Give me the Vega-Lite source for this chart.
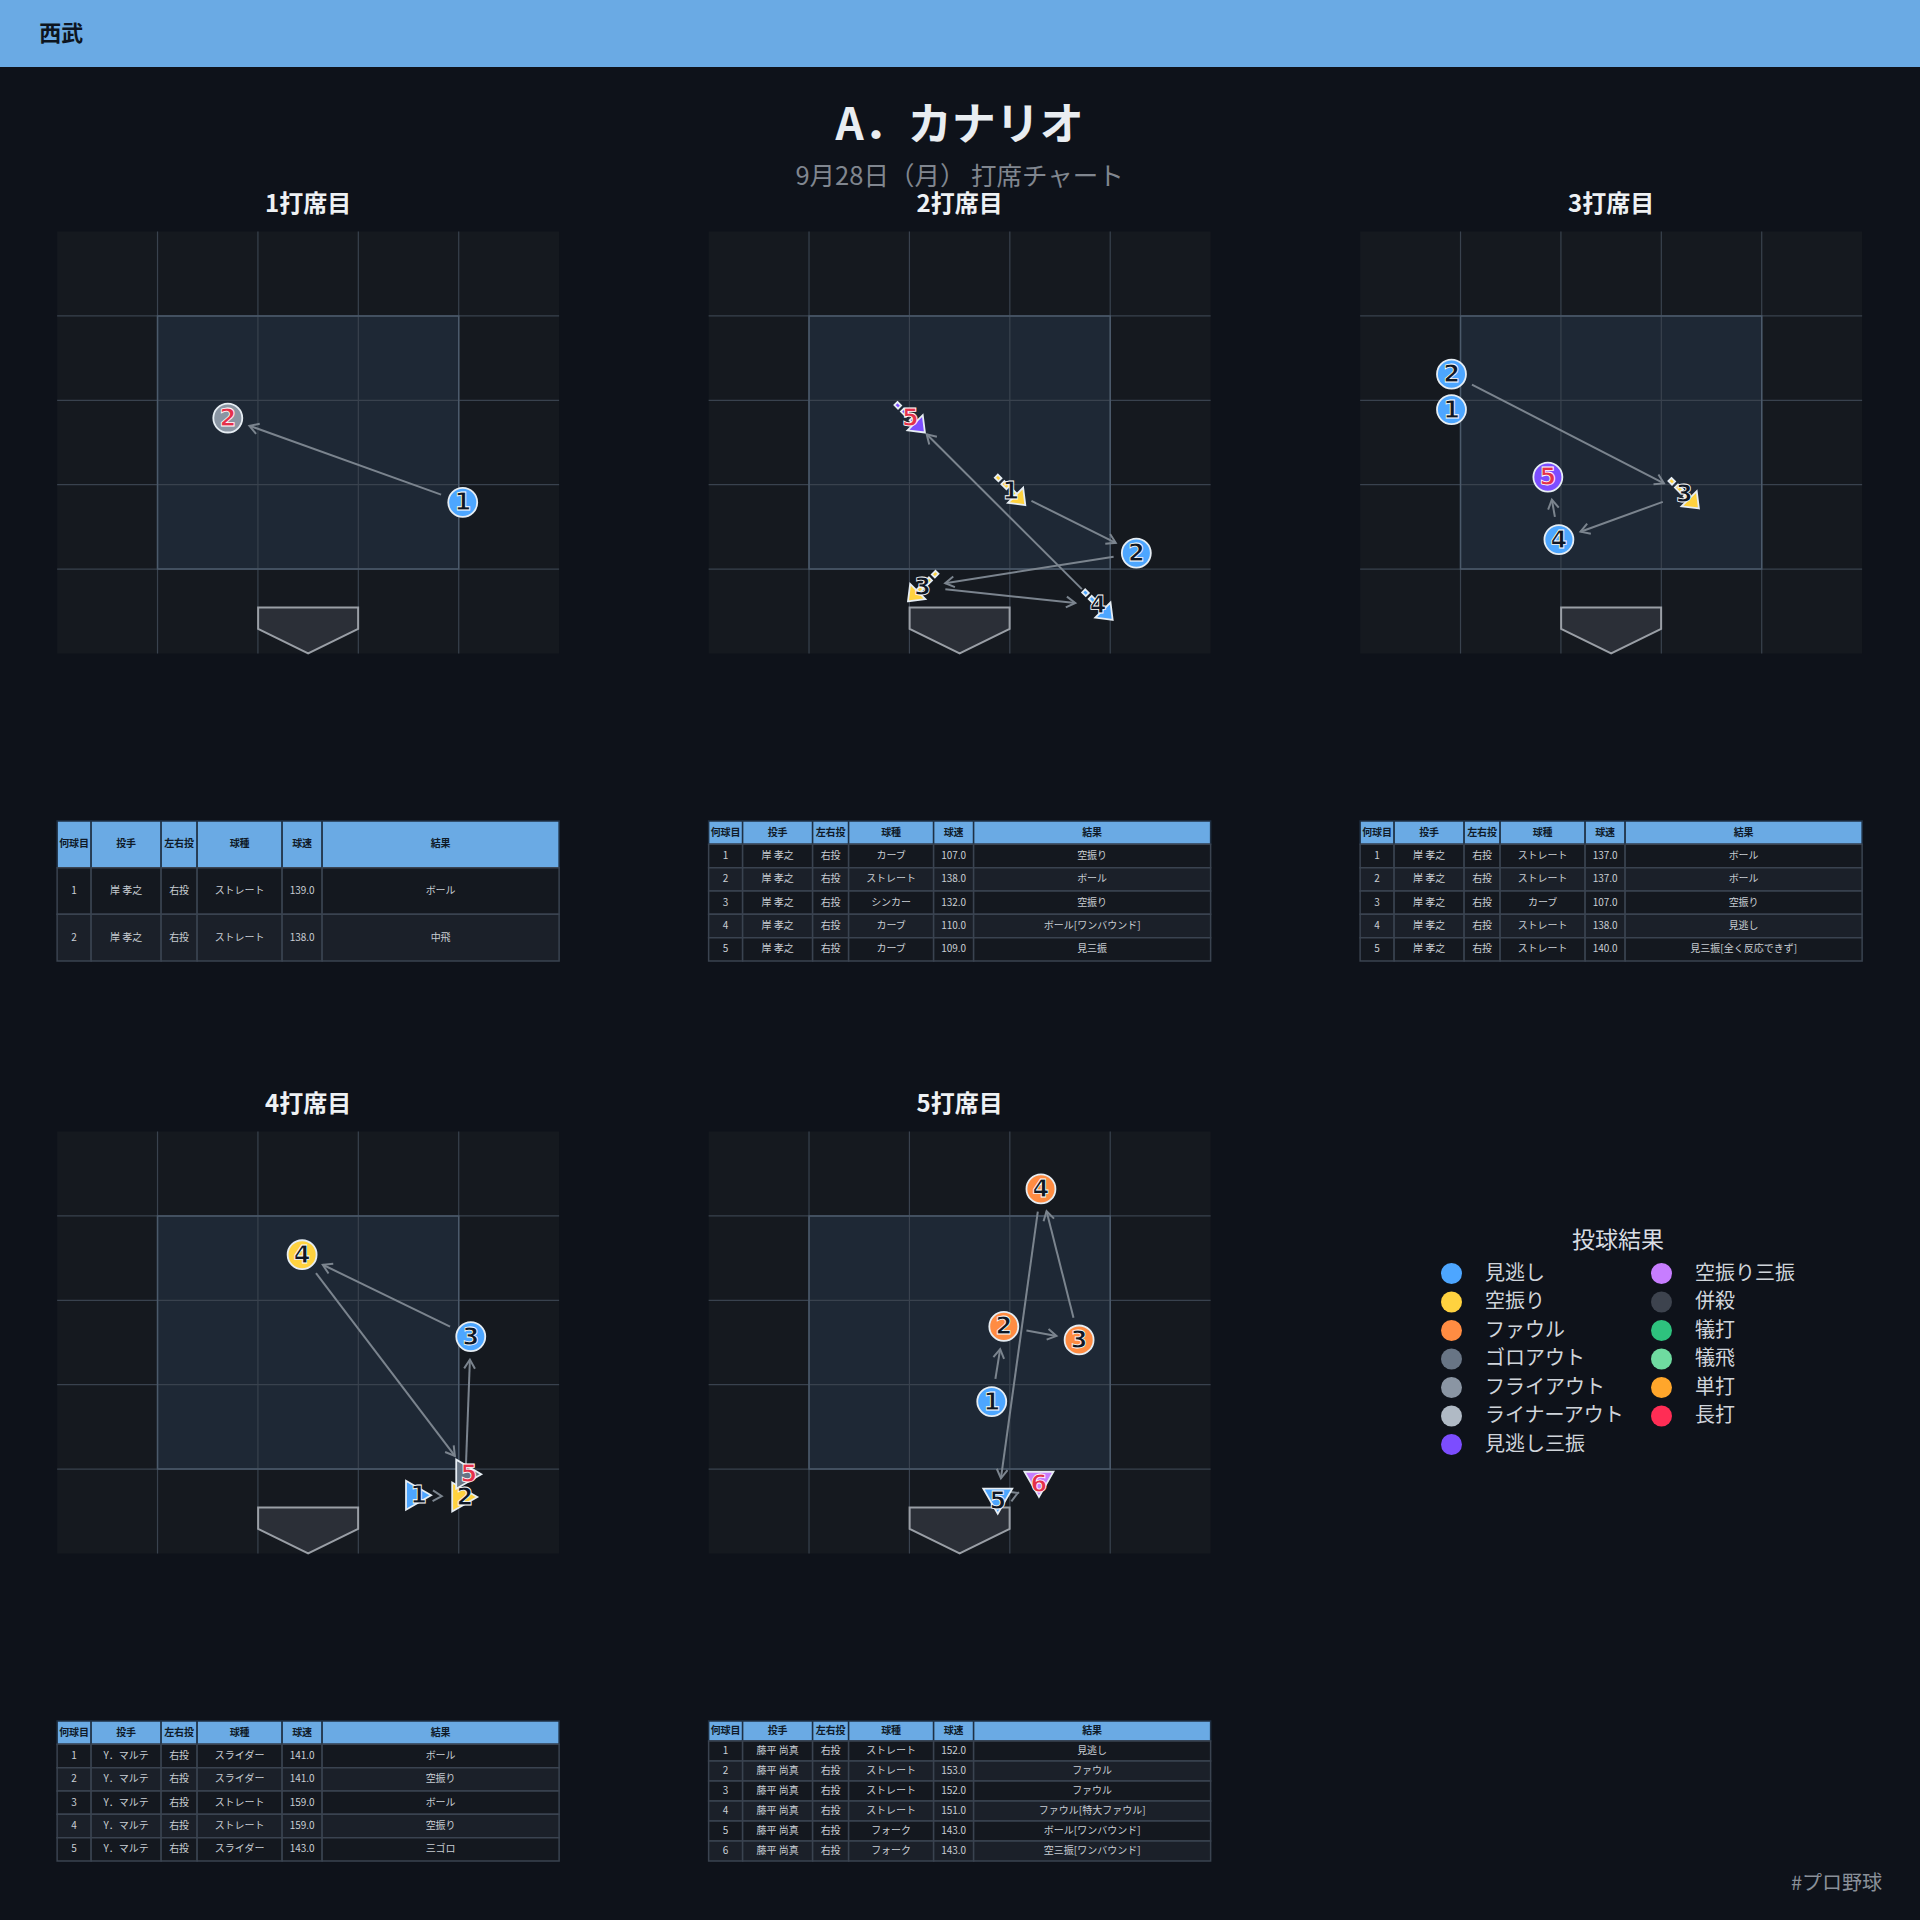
{
"$schema":"https://vega.github.io/schema/vega-lite/v6.json",
"background":"#0e121a",
"padding":{"left":0,"top":0,"right":0,"bottom":40},
"config":{"view":{"stroke":null},"font":"Noto Sans CJK JP","axis":{"labels":false,"ticks":false,"domain":false,"grid":false}},
"datasets":{
"ab1":[
{"n":1,"x":1.54,"y":1.79,"pitcher":"岸 孝之","hand":"右投","type":"ストレート","speed":139,"result":"ボール","cat":"見逃し"},
{"n":2,"x":-0.80,"y":2.79,"pitcher":"岸 孝之","hand":"右投","type":"ストレート","speed":138,"result":"中飛","cat":"フライアウト"}],
"ab2":[
{"n":1,"x":0.51,"y":1.93,"pitcher":"岸 孝之","hand":"右投","type":"カーブ","speed":107,"result":"空振り","cat":"空振り"},
{"n":2,"x":1.76,"y":1.19,"pitcher":"岸 孝之","hand":"右投","type":"ストレート","speed":138,"result":"ボール","cat":"見逃し"},
{"n":3,"x":-0.37,"y":0.79,"pitcher":"岸 孝之","hand":"右投","type":"シンカー","speed":132,"result":"空振り","cat":"空振り"},
{"n":4,"x":1.38,"y":0.57,"pitcher":"岸 孝之","hand":"右投","type":"カーブ","speed":110,"result":"ボール[ワンバウンド]","cat":"見逃し"},
{"n":5,"x":-0.49,"y":2.79,"pitcher":"岸 孝之","hand":"右投","type":"カーブ","speed":109,"result":"見三振","cat":"見逃し三振"}],
"ab3":[
{"n":1,"x":-1.59,"y":2.89,"pitcher":"岸 孝之","hand":"右投","type":"ストレート","speed":137,"result":"ボール","cat":"見逃し"},
{"n":2,"x":-1.59,"y":3.31,"pitcher":"岸 孝之","hand":"右投","type":"ストレート","speed":137,"result":"ボール","cat":"見逃し"},
{"n":3,"x":0.73,"y":1.89,"pitcher":"岸 孝之","hand":"右投","type":"カーブ","speed":107,"result":"空振り","cat":"空振り"},
{"n":4,"x":-0.52,"y":1.35,"pitcher":"岸 孝之","hand":"右投","type":"ストレート","speed":138,"result":"見逃し","cat":"見逃し"},
{"n":5,"x":-0.63,"y":2.09,"pitcher":"岸 孝之","hand":"右投","type":"ストレート","speed":140,"result":"見三振[全く反応できず]","cat":"見逃し三振"}],
"ab4":[
{"n":1,"x":1.10,"y":0.69,"pitcher":"Y．マルテ","hand":"右投","type":"スライダー","speed":141,"result":"ボール","cat":"見逃し"},
{"n":2,"x":1.56,"y":0.67,"pitcher":"Y．マルテ","hand":"右投","type":"スライダー","speed":141,"result":"空振り","cat":"空振り"},
{"n":3,"x":1.62,"y":2.57,"pitcher":"Y．マルテ","hand":"右投","type":"ストレート","speed":159,"result":"ボール","cat":"見逃し"},
{"n":4,"x":-0.06,"y":3.54,"pitcher":"Y．マルテ","hand":"右投","type":"ストレート","speed":159,"result":"空振り","cat":"空振り"},
{"n":5,"x":1.60,"y":0.94,"pitcher":"Y．マルテ","hand":"右投","type":"スライダー","speed":143,"result":"三ゴロ","cat":"ゴロアウト"}],
"ab5":[
{"n":1,"x":0.32,"y":1.80,"pitcher":"藤平 尚真","hand":"右投","type":"ストレート","speed":152,"result":"見逃し","cat":"見逃し"},
{"n":2,"x":0.44,"y":2.69,"pitcher":"藤平 尚真","hand":"右投","type":"ストレート","speed":153,"result":"ファウル","cat":"ファウル"},
{"n":3,"x":1.19,"y":2.53,"pitcher":"藤平 尚真","hand":"右投","type":"ストレート","speed":152,"result":"ファウル","cat":"ファウル"},
{"n":4,"x":0.81,"y":4.32,"pitcher":"藤平 尚真","hand":"右投","type":"ストレート","speed":151,"result":"ファウル[特大ファウル]","cat":"ファウル"},
{"n":5,"x":0.38,"y":0.62,"pitcher":"藤平 尚真","hand":"右投","type":"フォーク","speed":143,"result":"ボール[ワンバウンド]","cat":"見逃し"},
{"n":6,"x":0.79,"y":0.82,"pitcher":"藤平 尚真","hand":"右投","type":"フォーク","speed":143,"result":"空三振[ワンバウンド]","cat":"空振り三振"}]
},
"title":{"text":"#プロ野球","orient":"bottom","anchor":"end","fontSize":20,"fontWeight":"normal","color":"#8a9099","offset":12,"dx":-38},
"center":true,
"spacing":37.5,
"vconcat":[
{"width":1920,"height":67,"view":{"fill":"#6aaae4"},"data":{"values":[{"team":"西武"}]},"mark":{"type":"text","align":"left","baseline":"middle","fontSize":22,"fontWeight":"bold","color":"#0d1520"},
 "encoding":{"text":{"field":"team","type":"nominal"},"x":{"datum":0,"type":"quantitative","scale":{"domain":[-1,48],"nice":false,"zero":false},"axis":null}}},
{"title":{"text":"A．カナリオ","subtitle":"9月28日（月） 打席チャート","anchor":"middle","fontSize":44,"fontWeight":"bold","color":"#e9edf1","subtitleFontSize":25.5,"subtitleColor":"#80868f","subtitlePadding":16,"offset":2},
 "columns":3,"spacing":{"row":130,"column":147.5},
 "concat":[
 {"title":{"text":"1打席目","anchor":"middle","fontSize":24,"fontWeight":"bold","color":"#eef1f4","offset":14},"spacing":167.5,"bounds":"flush","vconcat":[
  {"width":502,"height":422,"view":{"fill":"#15191f"},"layer":[
   {"data":{"values":[{}]},"mark":{"type":"rect","fill":"#1e2835"},"encoding":{"x":{"datum":-1.5,"type":"quantitative","scale":{"domain":[-2.5,2.5],"nice":false,"zero":false},"axis":null},"x2":{"datum":1.5},"y":{"datum":1,"type":"quantitative","scale":{"domain":[0,5],"nice":false,"zero":false},"axis":null},"y2":{"datum":4}}},
   {"data":{"values":[{}]},"layer":[
    {"mark":{"type":"rule","color":"#39424e","strokeWidth":1.2},"encoding":{"x":{"datum":-1.5,"type":"quantitative","axis":null}}},
    {"mark":{"type":"rule","color":"#39424e","strokeWidth":1.2},"encoding":{"x":{"datum":-0.5,"type":"quantitative","axis":null}}},
    {"mark":{"type":"rule","color":"#39424e","strokeWidth":1.2},"encoding":{"x":{"datum":0.5,"type":"quantitative","axis":null}}},
    {"mark":{"type":"rule","color":"#39424e","strokeWidth":1.2},"encoding":{"x":{"datum":1.5,"type":"quantitative","axis":null}}},
    {"mark":{"type":"rule","color":"#39424e","strokeWidth":1.2},"encoding":{"y":{"datum":1,"type":"quantitative","axis":null}}},
    {"mark":{"type":"rule","color":"#39424e","strokeWidth":1.2},"encoding":{"y":{"datum":2,"type":"quantitative","axis":null}}},
    {"mark":{"type":"rule","color":"#39424e","strokeWidth":1.2},"encoding":{"y":{"datum":3,"type":"quantitative","axis":null}}},
    {"mark":{"type":"rule","color":"#39424e","strokeWidth":1.2},"encoding":{"y":{"datum":4,"type":"quantitative","axis":null}}}]},
   {"data":{"values":[{}]},"mark":{"type":"rect","filled":false,"stroke":"#4b5a6b","strokeWidth":1.5},"encoding":{"x":{"datum":-1.5,"type":"quantitative","axis":null},"x2":{"datum":1.5},"y":{"datum":1,"type":"quantitative","axis":null},"y2":{"datum":4}}},
   {"data":{"values":[{}]},"mark":{"type":"point","shape":"M -1 -0.46 L 1 -0.46 L 1 -0.03 L 0 0.46 L -1 -0.03 Z","size":10000,"filled":true,"fill":"#2b2f37","stroke":"#9a9fa6","strokeWidth":2,"opacity":1},"encoding":{"x":{"datum":0,"type":"quantitative","axis":null},"y":{"datum":0.2725,"type":"quantitative","axis":null}}},
   {"data":{"name":"ab1"},"transform":[{"window":[{"op":"lead","field":"x","as":"nx"},{"op":"lead","field":"y","as":"ny"}],"sort":[{"field":"n","order":"ascending"}]},{"filter":{"field":"nx","valid":true}},{"calculate":"sqrt(pow((datum.nx-datum.x)*100.4,2)+pow((datum.ny-datum.y)*84.4,2))","as":"L"},{"filter":"datum.L > 40"},{"calculate":"datum.x+(datum.nx-datum.x)*23/datum.L","as":"sx"},{"calculate":"datum.y+(datum.ny-datum.y)*23/datum.L","as":"sy"},{"calculate":"datum.nx-(datum.nx-datum.x)*23/datum.L","as":"ex"},{"calculate":"datum.ny-(datum.ny-datum.y)*23/datum.L","as":"ey"},{"calculate":"atan2(-(datum.ny-datum.y)*84.4,(datum.nx-datum.x)*100.4)*180/PI","as":"ang"}],"layer":[
    {"mark":{"type":"rule","color":"#7b848e","strokeWidth":2},"encoding":{"x":{"field":"sx","type":"quantitative","axis":null},"y":{"field":"sy","type":"quantitative","axis":null},"x2":{"field":"ex"},"y2":{"field":"ey"}}},
    {"mark":{"type":"point","shape":"M -0.5 -0.3 L 0 0 L -0.5 0.3","size":1296,"filled":false,"stroke":"#7b848e","strokeWidth":2,"opacity":1},"encoding":{"x":{"field":"ex","type":"quantitative","axis":null},"y":{"field":"ey","type":"quantitative","axis":null},"angle":{"field":"ang","type":"quantitative","scale":null}}}]},
   {"data":{"name":"ab1"},"mark":{"type":"point","filled":true,"size":840,"stroke":"#e6edf3","strokeWidth":1.8,"opacity":1},"encoding":{"x":{"field":"x","type":"quantitative","axis":null},"y":{"field":"y","type":"quantitative","axis":null},
    "color":{"field":"cat","type":"nominal","scale":{"domain":["見逃し","空振り","ファウル","ゴロアウト","フライアウト","ライナーアウト","見逃し三振","空振り三振","併殺","犠打","犠飛","単打","長打"],"range":["#4da6ff","#ffd23f","#ff8c42","#687585","#8a95a3","#b0bac5","#7c4dff","#c77dff","#3d434e","#2ec27e","#6fdba0","#ffa62b","#ff2d55"]},"legend":{"orient":"none","legendX":1441,"legendY":1230,"columns":2,"title":"投球結果","titleAnchor":"middle","titleFontSize":23,"titleFontWeight":"normal","titleColor":"#d8dde3","titlePadding":10,"labelFontSize":20,"labelColor":"#d0d5db","labelOffset":23,"labelLimit":300,"symbolType":"circle","symbolSize":441,"symbolStrokeWidth":0,"rowPadding":7.5,"columnPadding":26,"padding":0}},
    "shape":{"field":"type","type":"nominal","scale":{"domain":["ストレート","カーブ","シンカー","スライダー","フォーク"],"range":["circle","M 1 1 L -0.2 0.85 L 0.85 -0.2 Z M -0.894 -1.106 L -0.644 -0.856 L -0.856 -0.644 L -1.106 -0.894 Z M -0.444 -0.656 L -0.094 -0.306 L -0.306 -0.094 L -0.656 -0.444 Z M 0.156 -0.056 L 0.406 0.194 L 0.194 0.406 L -0.056 0.156 Z","M -1 1 L 0.2 0.85 L -0.85 -0.2 Z M 0.894 -1.106 L 0.644 -0.856 L 0.856 -0.644 L 1.106 -0.894 Z M 0.444 -0.656 L 0.094 -0.306 L 0.306 -0.094 L 0.656 -0.444 Z M -0.156 -0.056 L -0.406 0.194 L -0.194 0.406 L 0.056 0.156 Z","triangle-right","triangle-down"]},"legend":null}}},
   {"data":{"name":"ab1"},"mark":{"type":"text","font":"DejaVu Sans","fontSize":24,"fontWeight":"bold","stroke":"#ffffff","strokeWidth":0.8,"dy":1},"encoding":{"x":{"field":"x","type":"quantitative","axis":null},"y":{"field":"y","type":"quantitative","axis":null},"text":{"field":"n","type":"nominal"},"fill":{"condition":{"test":{"field":"cat","oneOf":["見逃し","空振り","ファウル"]},"value":"#0f1724"},"value":"#e5304a"}}}
  ]},
  {"spacing":0,"bounds":"flush","hconcat":[
   {"width":34,"height":140,"encoding":{"y":{"field":"n","type":"ordinal","scale":{"paddingInner":0,"paddingOuter":0},"axis":null}},"layer":[{"data":{"values":[{"n":0,"h":"何球目"}]},"layer":[{"mark":{"type":"rect","fill":"#6aaae4","stroke":"#1f3044","strokeWidth":1.5}},{"mark":{"type":"text","fill":"#0f1a28","fontSize":10,"fontWeight":"bold"},"encoding":{"text":{"field":"h","type":"nominal"}}}]},{"data":{"name":"ab1"},"layer":[{"mark":{"type":"rect","stroke":"#3a4350","strokeWidth":1.5},"encoding":{"fill":{"condition":{"test":{"field":"n","oneOf":[2,4,6]},"value":"#1b2029"},"value":"#14181f"}}},{"mark":{"type":"text","fill":"#c9ced4","fontSize":10},"encoding":{"text":{"field":"n","type":"nominal"}}}]}]},
   {"width":70,"height":140,"encoding":{"y":{"field":"n","type":"ordinal","scale":{"paddingInner":0,"paddingOuter":0},"axis":null}},"layer":[{"data":{"values":[{"n":0,"h":"投手"}]},"layer":[{"mark":{"type":"rect","fill":"#6aaae4","stroke":"#1f3044","strokeWidth":1.5}},{"mark":{"type":"text","fill":"#0f1a28","fontSize":10,"fontWeight":"bold"},"encoding":{"text":{"field":"h","type":"nominal"}}}]},{"data":{"name":"ab1"},"layer":[{"mark":{"type":"rect","stroke":"#3a4350","strokeWidth":1.5},"encoding":{"fill":{"condition":{"test":{"field":"n","oneOf":[2,4,6]},"value":"#1b2029"},"value":"#14181f"}}},{"mark":{"type":"text","fill":"#c9ced4","fontSize":10},"encoding":{"text":{"field":"pitcher","type":"nominal"}}}]}]},
   {"width":36,"height":140,"encoding":{"y":{"field":"n","type":"ordinal","scale":{"paddingInner":0,"paddingOuter":0},"axis":null}},"layer":[{"data":{"values":[{"n":0,"h":"左右投"}]},"layer":[{"mark":{"type":"rect","fill":"#6aaae4","stroke":"#1f3044","strokeWidth":1.5}},{"mark":{"type":"text","fill":"#0f1a28","fontSize":10,"fontWeight":"bold"},"encoding":{"text":{"field":"h","type":"nominal"}}}]},{"data":{"name":"ab1"},"layer":[{"mark":{"type":"rect","stroke":"#3a4350","strokeWidth":1.5},"encoding":{"fill":{"condition":{"test":{"field":"n","oneOf":[2,4,6]},"value":"#1b2029"},"value":"#14181f"}}},{"mark":{"type":"text","fill":"#c9ced4","fontSize":10},"encoding":{"text":{"field":"hand","type":"nominal"}}}]}]},
   {"width":85,"height":140,"encoding":{"y":{"field":"n","type":"ordinal","scale":{"paddingInner":0,"paddingOuter":0},"axis":null}},"layer":[{"data":{"values":[{"n":0,"h":"球種"}]},"layer":[{"mark":{"type":"rect","fill":"#6aaae4","stroke":"#1f3044","strokeWidth":1.5}},{"mark":{"type":"text","fill":"#0f1a28","fontSize":10,"fontWeight":"bold"},"encoding":{"text":{"field":"h","type":"nominal"}}}]},{"data":{"name":"ab1"},"layer":[{"mark":{"type":"rect","stroke":"#3a4350","strokeWidth":1.5},"encoding":{"fill":{"condition":{"test":{"field":"n","oneOf":[2,4,6]},"value":"#1b2029"},"value":"#14181f"}}},{"mark":{"type":"text","fill":"#c9ced4","fontSize":10},"encoding":{"text":{"field":"type","type":"nominal"}}}]}]},
   {"width":40,"height":140,"encoding":{"y":{"field":"n","type":"ordinal","scale":{"paddingInner":0,"paddingOuter":0},"axis":null}},"layer":[{"data":{"values":[{"n":0,"h":"球速"}]},"layer":[{"mark":{"type":"rect","fill":"#6aaae4","stroke":"#1f3044","strokeWidth":1.5}},{"mark":{"type":"text","fill":"#0f1a28","fontSize":10,"fontWeight":"bold"},"encoding":{"text":{"field":"h","type":"nominal"}}}]},{"data":{"name":"ab1"},"layer":[{"mark":{"type":"rect","stroke":"#3a4350","strokeWidth":1.5},"encoding":{"fill":{"condition":{"test":{"field":"n","oneOf":[2,4,6]},"value":"#1b2029"},"value":"#14181f"}}},{"mark":{"type":"text","fill":"#c9ced4","fontSize":10},"encoding":{"text":{"field":"speed","type":"quantitative","format":".1f"}}}]}]},
   {"width":237,"height":140,"encoding":{"y":{"field":"n","type":"ordinal","scale":{"paddingInner":0,"paddingOuter":0},"axis":null}},"layer":[{"data":{"values":[{"n":0,"h":"結果"}]},"layer":[{"mark":{"type":"rect","fill":"#6aaae4","stroke":"#1f3044","strokeWidth":1.5}},{"mark":{"type":"text","fill":"#0f1a28","fontSize":10,"fontWeight":"bold"},"encoding":{"text":{"field":"h","type":"nominal"}}}]},{"data":{"name":"ab1"},"layer":[{"mark":{"type":"rect","stroke":"#3a4350","strokeWidth":1.5},"encoding":{"fill":{"condition":{"test":{"field":"n","oneOf":[2,4,6]},"value":"#1b2029"},"value":"#14181f"}}},{"mark":{"type":"text","fill":"#c9ced4","fontSize":10},"encoding":{"text":{"field":"result","type":"nominal"}}}]}]}
  ]}
 ]},
 {"title":{"text":"2打席目","anchor":"middle","fontSize":24,"fontWeight":"bold","color":"#eef1f4","offset":14},"spacing":167.5,"bounds":"flush","vconcat":[
  {"width":502,"height":422,"view":{"fill":"#15191f"},"layer":[
   {"data":{"values":[{}]},"mark":{"type":"rect","fill":"#1e2835"},"encoding":{"x":{"datum":-1.5,"type":"quantitative","scale":{"domain":[-2.5,2.5],"nice":false,"zero":false},"axis":null},"x2":{"datum":1.5},"y":{"datum":1,"type":"quantitative","scale":{"domain":[0,5],"nice":false,"zero":false},"axis":null},"y2":{"datum":4}}},
   {"data":{"values":[{}]},"layer":[
    {"mark":{"type":"rule","color":"#39424e","strokeWidth":1.2},"encoding":{"x":{"datum":-1.5,"type":"quantitative","axis":null}}},
    {"mark":{"type":"rule","color":"#39424e","strokeWidth":1.2},"encoding":{"x":{"datum":-0.5,"type":"quantitative","axis":null}}},
    {"mark":{"type":"rule","color":"#39424e","strokeWidth":1.2},"encoding":{"x":{"datum":0.5,"type":"quantitative","axis":null}}},
    {"mark":{"type":"rule","color":"#39424e","strokeWidth":1.2},"encoding":{"x":{"datum":1.5,"type":"quantitative","axis":null}}},
    {"mark":{"type":"rule","color":"#39424e","strokeWidth":1.2},"encoding":{"y":{"datum":1,"type":"quantitative","axis":null}}},
    {"mark":{"type":"rule","color":"#39424e","strokeWidth":1.2},"encoding":{"y":{"datum":2,"type":"quantitative","axis":null}}},
    {"mark":{"type":"rule","color":"#39424e","strokeWidth":1.2},"encoding":{"y":{"datum":3,"type":"quantitative","axis":null}}},
    {"mark":{"type":"rule","color":"#39424e","strokeWidth":1.2},"encoding":{"y":{"datum":4,"type":"quantitative","axis":null}}}]},
   {"data":{"values":[{}]},"mark":{"type":"rect","filled":false,"stroke":"#4b5a6b","strokeWidth":1.5},"encoding":{"x":{"datum":-1.5,"type":"quantitative","axis":null},"x2":{"datum":1.5},"y":{"datum":1,"type":"quantitative","axis":null},"y2":{"datum":4}}},
   {"data":{"values":[{}]},"mark":{"type":"point","shape":"M -1 -0.46 L 1 -0.46 L 1 -0.03 L 0 0.46 L -1 -0.03 Z","size":10000,"filled":true,"fill":"#2b2f37","stroke":"#9a9fa6","strokeWidth":2,"opacity":1},"encoding":{"x":{"datum":0,"type":"quantitative","axis":null},"y":{"datum":0.2725,"type":"quantitative","axis":null}}},
   {"data":{"name":"ab2"},"transform":[{"window":[{"op":"lead","field":"x","as":"nx"},{"op":"lead","field":"y","as":"ny"}],"sort":[{"field":"n","order":"ascending"}]},{"filter":{"field":"nx","valid":true}},{"calculate":"sqrt(pow((datum.nx-datum.x)*100.4,2)+pow((datum.ny-datum.y)*84.4,2))","as":"L"},{"filter":"datum.L > 40"},{"calculate":"datum.x+(datum.nx-datum.x)*23/datum.L","as":"sx"},{"calculate":"datum.y+(datum.ny-datum.y)*23/datum.L","as":"sy"},{"calculate":"datum.nx-(datum.nx-datum.x)*23/datum.L","as":"ex"},{"calculate":"datum.ny-(datum.ny-datum.y)*23/datum.L","as":"ey"},{"calculate":"atan2(-(datum.ny-datum.y)*84.4,(datum.nx-datum.x)*100.4)*180/PI","as":"ang"}],"layer":[
    {"mark":{"type":"rule","color":"#7b848e","strokeWidth":2},"encoding":{"x":{"field":"sx","type":"quantitative","axis":null},"y":{"field":"sy","type":"quantitative","axis":null},"x2":{"field":"ex"},"y2":{"field":"ey"}}},
    {"mark":{"type":"point","shape":"M -0.5 -0.3 L 0 0 L -0.5 0.3","size":1296,"filled":false,"stroke":"#7b848e","strokeWidth":2,"opacity":1},"encoding":{"x":{"field":"ex","type":"quantitative","axis":null},"y":{"field":"ey","type":"quantitative","axis":null},"angle":{"field":"ang","type":"quantitative","scale":null}}}]},
   {"data":{"name":"ab2"},"mark":{"type":"point","filled":true,"size":840,"stroke":"#e6edf3","strokeWidth":1.8,"opacity":1},"encoding":{"x":{"field":"x","type":"quantitative","axis":null},"y":{"field":"y","type":"quantitative","axis":null},
    "color":{"field":"cat","type":"nominal","scale":{"domain":["見逃し","空振り","ファウル","ゴロアウト","フライアウト","ライナーアウト","見逃し三振","空振り三振","併殺","犠打","犠飛","単打","長打"],"range":["#4da6ff","#ffd23f","#ff8c42","#687585","#8a95a3","#b0bac5","#7c4dff","#c77dff","#3d434e","#2ec27e","#6fdba0","#ffa62b","#ff2d55"]},"legend":{"orient":"none","legendX":1441,"legendY":1230,"columns":2,"title":"投球結果","titleAnchor":"middle","titleFontSize":23,"titleFontWeight":"normal","titleColor":"#d8dde3","titlePadding":10,"labelFontSize":20,"labelColor":"#d0d5db","labelOffset":23,"labelLimit":300,"symbolType":"circle","symbolSize":441,"symbolStrokeWidth":0,"rowPadding":7.5,"columnPadding":26,"padding":0}},
    "shape":{"field":"type","type":"nominal","scale":{"domain":["ストレート","カーブ","シンカー","スライダー","フォーク"],"range":["circle","M 1 1 L -0.2 0.85 L 0.85 -0.2 Z M -0.894 -1.106 L -0.644 -0.856 L -0.856 -0.644 L -1.106 -0.894 Z M -0.444 -0.656 L -0.094 -0.306 L -0.306 -0.094 L -0.656 -0.444 Z M 0.156 -0.056 L 0.406 0.194 L 0.194 0.406 L -0.056 0.156 Z","M -1 1 L 0.2 0.85 L -0.85 -0.2 Z M 0.894 -1.106 L 0.644 -0.856 L 0.856 -0.644 L 1.106 -0.894 Z M 0.444 -0.656 L 0.094 -0.306 L 0.306 -0.094 L 0.656 -0.444 Z M -0.156 -0.056 L -0.406 0.194 L -0.194 0.406 L 0.056 0.156 Z","triangle-right","triangle-down"]},"legend":null}}},
   {"data":{"name":"ab2"},"mark":{"type":"text","font":"DejaVu Sans","fontSize":24,"fontWeight":"bold","stroke":"#ffffff","strokeWidth":0.8,"dy":1},"encoding":{"x":{"field":"x","type":"quantitative","axis":null},"y":{"field":"y","type":"quantitative","axis":null},"text":{"field":"n","type":"nominal"},"fill":{"condition":{"test":{"field":"cat","oneOf":["見逃し","空振り","ファウル"]},"value":"#0f1724"},"value":"#e5304a"}}}
  ]},
  {"spacing":0,"bounds":"flush","hconcat":[
   {"width":34,"height":140,"encoding":{"y":{"field":"n","type":"ordinal","scale":{"paddingInner":0,"paddingOuter":0},"axis":null}},"layer":[{"data":{"values":[{"n":0,"h":"何球目"}]},"layer":[{"mark":{"type":"rect","fill":"#6aaae4","stroke":"#1f3044","strokeWidth":1.5}},{"mark":{"type":"text","fill":"#0f1a28","fontSize":10,"fontWeight":"bold"},"encoding":{"text":{"field":"h","type":"nominal"}}}]},{"data":{"name":"ab2"},"layer":[{"mark":{"type":"rect","stroke":"#3a4350","strokeWidth":1.5},"encoding":{"fill":{"condition":{"test":{"field":"n","oneOf":[2,4,6]},"value":"#1b2029"},"value":"#14181f"}}},{"mark":{"type":"text","fill":"#c9ced4","fontSize":10},"encoding":{"text":{"field":"n","type":"nominal"}}}]}]},
   {"width":70,"height":140,"encoding":{"y":{"field":"n","type":"ordinal","scale":{"paddingInner":0,"paddingOuter":0},"axis":null}},"layer":[{"data":{"values":[{"n":0,"h":"投手"}]},"layer":[{"mark":{"type":"rect","fill":"#6aaae4","stroke":"#1f3044","strokeWidth":1.5}},{"mark":{"type":"text","fill":"#0f1a28","fontSize":10,"fontWeight":"bold"},"encoding":{"text":{"field":"h","type":"nominal"}}}]},{"data":{"name":"ab2"},"layer":[{"mark":{"type":"rect","stroke":"#3a4350","strokeWidth":1.5},"encoding":{"fill":{"condition":{"test":{"field":"n","oneOf":[2,4,6]},"value":"#1b2029"},"value":"#14181f"}}},{"mark":{"type":"text","fill":"#c9ced4","fontSize":10},"encoding":{"text":{"field":"pitcher","type":"nominal"}}}]}]},
   {"width":36,"height":140,"encoding":{"y":{"field":"n","type":"ordinal","scale":{"paddingInner":0,"paddingOuter":0},"axis":null}},"layer":[{"data":{"values":[{"n":0,"h":"左右投"}]},"layer":[{"mark":{"type":"rect","fill":"#6aaae4","stroke":"#1f3044","strokeWidth":1.5}},{"mark":{"type":"text","fill":"#0f1a28","fontSize":10,"fontWeight":"bold"},"encoding":{"text":{"field":"h","type":"nominal"}}}]},{"data":{"name":"ab2"},"layer":[{"mark":{"type":"rect","stroke":"#3a4350","strokeWidth":1.5},"encoding":{"fill":{"condition":{"test":{"field":"n","oneOf":[2,4,6]},"value":"#1b2029"},"value":"#14181f"}}},{"mark":{"type":"text","fill":"#c9ced4","fontSize":10},"encoding":{"text":{"field":"hand","type":"nominal"}}}]}]},
   {"width":85,"height":140,"encoding":{"y":{"field":"n","type":"ordinal","scale":{"paddingInner":0,"paddingOuter":0},"axis":null}},"layer":[{"data":{"values":[{"n":0,"h":"球種"}]},"layer":[{"mark":{"type":"rect","fill":"#6aaae4","stroke":"#1f3044","strokeWidth":1.5}},{"mark":{"type":"text","fill":"#0f1a28","fontSize":10,"fontWeight":"bold"},"encoding":{"text":{"field":"h","type":"nominal"}}}]},{"data":{"name":"ab2"},"layer":[{"mark":{"type":"rect","stroke":"#3a4350","strokeWidth":1.5},"encoding":{"fill":{"condition":{"test":{"field":"n","oneOf":[2,4,6]},"value":"#1b2029"},"value":"#14181f"}}},{"mark":{"type":"text","fill":"#c9ced4","fontSize":10},"encoding":{"text":{"field":"type","type":"nominal"}}}]}]},
   {"width":40,"height":140,"encoding":{"y":{"field":"n","type":"ordinal","scale":{"paddingInner":0,"paddingOuter":0},"axis":null}},"layer":[{"data":{"values":[{"n":0,"h":"球速"}]},"layer":[{"mark":{"type":"rect","fill":"#6aaae4","stroke":"#1f3044","strokeWidth":1.5}},{"mark":{"type":"text","fill":"#0f1a28","fontSize":10,"fontWeight":"bold"},"encoding":{"text":{"field":"h","type":"nominal"}}}]},{"data":{"name":"ab2"},"layer":[{"mark":{"type":"rect","stroke":"#3a4350","strokeWidth":1.5},"encoding":{"fill":{"condition":{"test":{"field":"n","oneOf":[2,4,6]},"value":"#1b2029"},"value":"#14181f"}}},{"mark":{"type":"text","fill":"#c9ced4","fontSize":10},"encoding":{"text":{"field":"speed","type":"quantitative","format":".1f"}}}]}]},
   {"width":237,"height":140,"encoding":{"y":{"field":"n","type":"ordinal","scale":{"paddingInner":0,"paddingOuter":0},"axis":null}},"layer":[{"data":{"values":[{"n":0,"h":"結果"}]},"layer":[{"mark":{"type":"rect","fill":"#6aaae4","stroke":"#1f3044","strokeWidth":1.5}},{"mark":{"type":"text","fill":"#0f1a28","fontSize":10,"fontWeight":"bold"},"encoding":{"text":{"field":"h","type":"nominal"}}}]},{"data":{"name":"ab2"},"layer":[{"mark":{"type":"rect","stroke":"#3a4350","strokeWidth":1.5},"encoding":{"fill":{"condition":{"test":{"field":"n","oneOf":[2,4,6]},"value":"#1b2029"},"value":"#14181f"}}},{"mark":{"type":"text","fill":"#c9ced4","fontSize":10},"encoding":{"text":{"field":"result","type":"nominal"}}}]}]}
  ]}
 ]},
 {"title":{"text":"3打席目","anchor":"middle","fontSize":24,"fontWeight":"bold","color":"#eef1f4","offset":14},"spacing":167.5,"bounds":"flush","vconcat":[
  {"width":502,"height":422,"view":{"fill":"#15191f"},"layer":[
   {"data":{"values":[{}]},"mark":{"type":"rect","fill":"#1e2835"},"encoding":{"x":{"datum":-1.5,"type":"quantitative","scale":{"domain":[-2.5,2.5],"nice":false,"zero":false},"axis":null},"x2":{"datum":1.5},"y":{"datum":1,"type":"quantitative","scale":{"domain":[0,5],"nice":false,"zero":false},"axis":null},"y2":{"datum":4}}},
   {"data":{"values":[{}]},"layer":[
    {"mark":{"type":"rule","color":"#39424e","strokeWidth":1.2},"encoding":{"x":{"datum":-1.5,"type":"quantitative","axis":null}}},
    {"mark":{"type":"rule","color":"#39424e","strokeWidth":1.2},"encoding":{"x":{"datum":-0.5,"type":"quantitative","axis":null}}},
    {"mark":{"type":"rule","color":"#39424e","strokeWidth":1.2},"encoding":{"x":{"datum":0.5,"type":"quantitative","axis":null}}},
    {"mark":{"type":"rule","color":"#39424e","strokeWidth":1.2},"encoding":{"x":{"datum":1.5,"type":"quantitative","axis":null}}},
    {"mark":{"type":"rule","color":"#39424e","strokeWidth":1.2},"encoding":{"y":{"datum":1,"type":"quantitative","axis":null}}},
    {"mark":{"type":"rule","color":"#39424e","strokeWidth":1.2},"encoding":{"y":{"datum":2,"type":"quantitative","axis":null}}},
    {"mark":{"type":"rule","color":"#39424e","strokeWidth":1.2},"encoding":{"y":{"datum":3,"type":"quantitative","axis":null}}},
    {"mark":{"type":"rule","color":"#39424e","strokeWidth":1.2},"encoding":{"y":{"datum":4,"type":"quantitative","axis":null}}}]},
   {"data":{"values":[{}]},"mark":{"type":"rect","filled":false,"stroke":"#4b5a6b","strokeWidth":1.5},"encoding":{"x":{"datum":-1.5,"type":"quantitative","axis":null},"x2":{"datum":1.5},"y":{"datum":1,"type":"quantitative","axis":null},"y2":{"datum":4}}},
   {"data":{"values":[{}]},"mark":{"type":"point","shape":"M -1 -0.46 L 1 -0.46 L 1 -0.03 L 0 0.46 L -1 -0.03 Z","size":10000,"filled":true,"fill":"#2b2f37","stroke":"#9a9fa6","strokeWidth":2,"opacity":1},"encoding":{"x":{"datum":0,"type":"quantitative","axis":null},"y":{"datum":0.2725,"type":"quantitative","axis":null}}},
   {"data":{"name":"ab3"},"transform":[{"window":[{"op":"lead","field":"x","as":"nx"},{"op":"lead","field":"y","as":"ny"}],"sort":[{"field":"n","order":"ascending"}]},{"filter":{"field":"nx","valid":true}},{"calculate":"sqrt(pow((datum.nx-datum.x)*100.4,2)+pow((datum.ny-datum.y)*84.4,2))","as":"L"},{"filter":"datum.L > 40"},{"calculate":"datum.x+(datum.nx-datum.x)*23/datum.L","as":"sx"},{"calculate":"datum.y+(datum.ny-datum.y)*23/datum.L","as":"sy"},{"calculate":"datum.nx-(datum.nx-datum.x)*23/datum.L","as":"ex"},{"calculate":"datum.ny-(datum.ny-datum.y)*23/datum.L","as":"ey"},{"calculate":"atan2(-(datum.ny-datum.y)*84.4,(datum.nx-datum.x)*100.4)*180/PI","as":"ang"}],"layer":[
    {"mark":{"type":"rule","color":"#7b848e","strokeWidth":2},"encoding":{"x":{"field":"sx","type":"quantitative","axis":null},"y":{"field":"sy","type":"quantitative","axis":null},"x2":{"field":"ex"},"y2":{"field":"ey"}}},
    {"mark":{"type":"point","shape":"M -0.5 -0.3 L 0 0 L -0.5 0.3","size":1296,"filled":false,"stroke":"#7b848e","strokeWidth":2,"opacity":1},"encoding":{"x":{"field":"ex","type":"quantitative","axis":null},"y":{"field":"ey","type":"quantitative","axis":null},"angle":{"field":"ang","type":"quantitative","scale":null}}}]},
   {"data":{"name":"ab3"},"mark":{"type":"point","filled":true,"size":840,"stroke":"#e6edf3","strokeWidth":1.8,"opacity":1},"encoding":{"x":{"field":"x","type":"quantitative","axis":null},"y":{"field":"y","type":"quantitative","axis":null},
    "color":{"field":"cat","type":"nominal","scale":{"domain":["見逃し","空振り","ファウル","ゴロアウト","フライアウト","ライナーアウト","見逃し三振","空振り三振","併殺","犠打","犠飛","単打","長打"],"range":["#4da6ff","#ffd23f","#ff8c42","#687585","#8a95a3","#b0bac5","#7c4dff","#c77dff","#3d434e","#2ec27e","#6fdba0","#ffa62b","#ff2d55"]},"legend":{"orient":"none","legendX":1441,"legendY":1230,"columns":2,"title":"投球結果","titleAnchor":"middle","titleFontSize":23,"titleFontWeight":"normal","titleColor":"#d8dde3","titlePadding":10,"labelFontSize":20,"labelColor":"#d0d5db","labelOffset":23,"labelLimit":300,"symbolType":"circle","symbolSize":441,"symbolStrokeWidth":0,"rowPadding":7.5,"columnPadding":26,"padding":0}},
    "shape":{"field":"type","type":"nominal","scale":{"domain":["ストレート","カーブ","シンカー","スライダー","フォーク"],"range":["circle","M 1 1 L -0.2 0.85 L 0.85 -0.2 Z M -0.894 -1.106 L -0.644 -0.856 L -0.856 -0.644 L -1.106 -0.894 Z M -0.444 -0.656 L -0.094 -0.306 L -0.306 -0.094 L -0.656 -0.444 Z M 0.156 -0.056 L 0.406 0.194 L 0.194 0.406 L -0.056 0.156 Z","M -1 1 L 0.2 0.85 L -0.85 -0.2 Z M 0.894 -1.106 L 0.644 -0.856 L 0.856 -0.644 L 1.106 -0.894 Z M 0.444 -0.656 L 0.094 -0.306 L 0.306 -0.094 L 0.656 -0.444 Z M -0.156 -0.056 L -0.406 0.194 L -0.194 0.406 L 0.056 0.156 Z","triangle-right","triangle-down"]},"legend":null}}},
   {"data":{"name":"ab3"},"mark":{"type":"text","font":"DejaVu Sans","fontSize":24,"fontWeight":"bold","stroke":"#ffffff","strokeWidth":0.8,"dy":1},"encoding":{"x":{"field":"x","type":"quantitative","axis":null},"y":{"field":"y","type":"quantitative","axis":null},"text":{"field":"n","type":"nominal"},"fill":{"condition":{"test":{"field":"cat","oneOf":["見逃し","空振り","ファウル"]},"value":"#0f1724"},"value":"#e5304a"}}}
  ]},
  {"spacing":0,"bounds":"flush","hconcat":[
   {"width":34,"height":140,"encoding":{"y":{"field":"n","type":"ordinal","scale":{"paddingInner":0,"paddingOuter":0},"axis":null}},"layer":[{"data":{"values":[{"n":0,"h":"何球目"}]},"layer":[{"mark":{"type":"rect","fill":"#6aaae4","stroke":"#1f3044","strokeWidth":1.5}},{"mark":{"type":"text","fill":"#0f1a28","fontSize":10,"fontWeight":"bold"},"encoding":{"text":{"field":"h","type":"nominal"}}}]},{"data":{"name":"ab3"},"layer":[{"mark":{"type":"rect","stroke":"#3a4350","strokeWidth":1.5},"encoding":{"fill":{"condition":{"test":{"field":"n","oneOf":[2,4,6]},"value":"#1b2029"},"value":"#14181f"}}},{"mark":{"type":"text","fill":"#c9ced4","fontSize":10},"encoding":{"text":{"field":"n","type":"nominal"}}}]}]},
   {"width":70,"height":140,"encoding":{"y":{"field":"n","type":"ordinal","scale":{"paddingInner":0,"paddingOuter":0},"axis":null}},"layer":[{"data":{"values":[{"n":0,"h":"投手"}]},"layer":[{"mark":{"type":"rect","fill":"#6aaae4","stroke":"#1f3044","strokeWidth":1.5}},{"mark":{"type":"text","fill":"#0f1a28","fontSize":10,"fontWeight":"bold"},"encoding":{"text":{"field":"h","type":"nominal"}}}]},{"data":{"name":"ab3"},"layer":[{"mark":{"type":"rect","stroke":"#3a4350","strokeWidth":1.5},"encoding":{"fill":{"condition":{"test":{"field":"n","oneOf":[2,4,6]},"value":"#1b2029"},"value":"#14181f"}}},{"mark":{"type":"text","fill":"#c9ced4","fontSize":10},"encoding":{"text":{"field":"pitcher","type":"nominal"}}}]}]},
   {"width":36,"height":140,"encoding":{"y":{"field":"n","type":"ordinal","scale":{"paddingInner":0,"paddingOuter":0},"axis":null}},"layer":[{"data":{"values":[{"n":0,"h":"左右投"}]},"layer":[{"mark":{"type":"rect","fill":"#6aaae4","stroke":"#1f3044","strokeWidth":1.5}},{"mark":{"type":"text","fill":"#0f1a28","fontSize":10,"fontWeight":"bold"},"encoding":{"text":{"field":"h","type":"nominal"}}}]},{"data":{"name":"ab3"},"layer":[{"mark":{"type":"rect","stroke":"#3a4350","strokeWidth":1.5},"encoding":{"fill":{"condition":{"test":{"field":"n","oneOf":[2,4,6]},"value":"#1b2029"},"value":"#14181f"}}},{"mark":{"type":"text","fill":"#c9ced4","fontSize":10},"encoding":{"text":{"field":"hand","type":"nominal"}}}]}]},
   {"width":85,"height":140,"encoding":{"y":{"field":"n","type":"ordinal","scale":{"paddingInner":0,"paddingOuter":0},"axis":null}},"layer":[{"data":{"values":[{"n":0,"h":"球種"}]},"layer":[{"mark":{"type":"rect","fill":"#6aaae4","stroke":"#1f3044","strokeWidth":1.5}},{"mark":{"type":"text","fill":"#0f1a28","fontSize":10,"fontWeight":"bold"},"encoding":{"text":{"field":"h","type":"nominal"}}}]},{"data":{"name":"ab3"},"layer":[{"mark":{"type":"rect","stroke":"#3a4350","strokeWidth":1.5},"encoding":{"fill":{"condition":{"test":{"field":"n","oneOf":[2,4,6]},"value":"#1b2029"},"value":"#14181f"}}},{"mark":{"type":"text","fill":"#c9ced4","fontSize":10},"encoding":{"text":{"field":"type","type":"nominal"}}}]}]},
   {"width":40,"height":140,"encoding":{"y":{"field":"n","type":"ordinal","scale":{"paddingInner":0,"paddingOuter":0},"axis":null}},"layer":[{"data":{"values":[{"n":0,"h":"球速"}]},"layer":[{"mark":{"type":"rect","fill":"#6aaae4","stroke":"#1f3044","strokeWidth":1.5}},{"mark":{"type":"text","fill":"#0f1a28","fontSize":10,"fontWeight":"bold"},"encoding":{"text":{"field":"h","type":"nominal"}}}]},{"data":{"name":"ab3"},"layer":[{"mark":{"type":"rect","stroke":"#3a4350","strokeWidth":1.5},"encoding":{"fill":{"condition":{"test":{"field":"n","oneOf":[2,4,6]},"value":"#1b2029"},"value":"#14181f"}}},{"mark":{"type":"text","fill":"#c9ced4","fontSize":10},"encoding":{"text":{"field":"speed","type":"quantitative","format":".1f"}}}]}]},
   {"width":237,"height":140,"encoding":{"y":{"field":"n","type":"ordinal","scale":{"paddingInner":0,"paddingOuter":0},"axis":null}},"layer":[{"data":{"values":[{"n":0,"h":"結果"}]},"layer":[{"mark":{"type":"rect","fill":"#6aaae4","stroke":"#1f3044","strokeWidth":1.5}},{"mark":{"type":"text","fill":"#0f1a28","fontSize":10,"fontWeight":"bold"},"encoding":{"text":{"field":"h","type":"nominal"}}}]},{"data":{"name":"ab3"},"layer":[{"mark":{"type":"rect","stroke":"#3a4350","strokeWidth":1.5},"encoding":{"fill":{"condition":{"test":{"field":"n","oneOf":[2,4,6]},"value":"#1b2029"},"value":"#14181f"}}},{"mark":{"type":"text","fill":"#c9ced4","fontSize":10},"encoding":{"text":{"field":"result","type":"nominal"}}}]}]}
  ]}
 ]},
 {"title":{"text":"4打席目","anchor":"middle","fontSize":24,"fontWeight":"bold","color":"#eef1f4","offset":14},"spacing":167.5,"bounds":"flush","vconcat":[
  {"width":502,"height":422,"view":{"fill":"#15191f"},"layer":[
   {"data":{"values":[{}]},"mark":{"type":"rect","fill":"#1e2835"},"encoding":{"x":{"datum":-1.5,"type":"quantitative","scale":{"domain":[-2.5,2.5],"nice":false,"zero":false},"axis":null},"x2":{"datum":1.5},"y":{"datum":1,"type":"quantitative","scale":{"domain":[0,5],"nice":false,"zero":false},"axis":null},"y2":{"datum":4}}},
   {"data":{"values":[{}]},"layer":[
    {"mark":{"type":"rule","color":"#39424e","strokeWidth":1.2},"encoding":{"x":{"datum":-1.5,"type":"quantitative","axis":null}}},
    {"mark":{"type":"rule","color":"#39424e","strokeWidth":1.2},"encoding":{"x":{"datum":-0.5,"type":"quantitative","axis":null}}},
    {"mark":{"type":"rule","color":"#39424e","strokeWidth":1.2},"encoding":{"x":{"datum":0.5,"type":"quantitative","axis":null}}},
    {"mark":{"type":"rule","color":"#39424e","strokeWidth":1.2},"encoding":{"x":{"datum":1.5,"type":"quantitative","axis":null}}},
    {"mark":{"type":"rule","color":"#39424e","strokeWidth":1.2},"encoding":{"y":{"datum":1,"type":"quantitative","axis":null}}},
    {"mark":{"type":"rule","color":"#39424e","strokeWidth":1.2},"encoding":{"y":{"datum":2,"type":"quantitative","axis":null}}},
    {"mark":{"type":"rule","color":"#39424e","strokeWidth":1.2},"encoding":{"y":{"datum":3,"type":"quantitative","axis":null}}},
    {"mark":{"type":"rule","color":"#39424e","strokeWidth":1.2},"encoding":{"y":{"datum":4,"type":"quantitative","axis":null}}}]},
   {"data":{"values":[{}]},"mark":{"type":"rect","filled":false,"stroke":"#4b5a6b","strokeWidth":1.5},"encoding":{"x":{"datum":-1.5,"type":"quantitative","axis":null},"x2":{"datum":1.5},"y":{"datum":1,"type":"quantitative","axis":null},"y2":{"datum":4}}},
   {"data":{"values":[{}]},"mark":{"type":"point","shape":"M -1 -0.46 L 1 -0.46 L 1 -0.03 L 0 0.46 L -1 -0.03 Z","size":10000,"filled":true,"fill":"#2b2f37","stroke":"#9a9fa6","strokeWidth":2,"opacity":1},"encoding":{"x":{"datum":0,"type":"quantitative","axis":null},"y":{"datum":0.2725,"type":"quantitative","axis":null}}},
   {"data":{"name":"ab4"},"transform":[{"window":[{"op":"lead","field":"x","as":"nx"},{"op":"lead","field":"y","as":"ny"}],"sort":[{"field":"n","order":"ascending"}]},{"filter":{"field":"nx","valid":true}},{"calculate":"sqrt(pow((datum.nx-datum.x)*100.4,2)+pow((datum.ny-datum.y)*84.4,2))","as":"L"},{"filter":"datum.L > 40"},{"calculate":"datum.x+(datum.nx-datum.x)*23/datum.L","as":"sx"},{"calculate":"datum.y+(datum.ny-datum.y)*23/datum.L","as":"sy"},{"calculate":"datum.nx-(datum.nx-datum.x)*23/datum.L","as":"ex"},{"calculate":"datum.ny-(datum.ny-datum.y)*23/datum.L","as":"ey"},{"calculate":"atan2(-(datum.ny-datum.y)*84.4,(datum.nx-datum.x)*100.4)*180/PI","as":"ang"}],"layer":[
    {"mark":{"type":"rule","color":"#7b848e","strokeWidth":2},"encoding":{"x":{"field":"sx","type":"quantitative","axis":null},"y":{"field":"sy","type":"quantitative","axis":null},"x2":{"field":"ex"},"y2":{"field":"ey"}}},
    {"mark":{"type":"point","shape":"M -0.5 -0.3 L 0 0 L -0.5 0.3","size":1296,"filled":false,"stroke":"#7b848e","strokeWidth":2,"opacity":1},"encoding":{"x":{"field":"ex","type":"quantitative","axis":null},"y":{"field":"ey","type":"quantitative","axis":null},"angle":{"field":"ang","type":"quantitative","scale":null}}}]},
   {"data":{"name":"ab4"},"mark":{"type":"point","filled":true,"size":840,"stroke":"#e6edf3","strokeWidth":1.8,"opacity":1},"encoding":{"x":{"field":"x","type":"quantitative","axis":null},"y":{"field":"y","type":"quantitative","axis":null},
    "color":{"field":"cat","type":"nominal","scale":{"domain":["見逃し","空振り","ファウル","ゴロアウト","フライアウト","ライナーアウト","見逃し三振","空振り三振","併殺","犠打","犠飛","単打","長打"],"range":["#4da6ff","#ffd23f","#ff8c42","#687585","#8a95a3","#b0bac5","#7c4dff","#c77dff","#3d434e","#2ec27e","#6fdba0","#ffa62b","#ff2d55"]},"legend":{"orient":"none","legendX":1441,"legendY":1230,"columns":2,"title":"投球結果","titleAnchor":"middle","titleFontSize":23,"titleFontWeight":"normal","titleColor":"#d8dde3","titlePadding":10,"labelFontSize":20,"labelColor":"#d0d5db","labelOffset":23,"labelLimit":300,"symbolType":"circle","symbolSize":441,"symbolStrokeWidth":0,"rowPadding":7.5,"columnPadding":26,"padding":0}},
    "shape":{"field":"type","type":"nominal","scale":{"domain":["ストレート","カーブ","シンカー","スライダー","フォーク"],"range":["circle","M 1 1 L -0.2 0.85 L 0.85 -0.2 Z M -0.894 -1.106 L -0.644 -0.856 L -0.856 -0.644 L -1.106 -0.894 Z M -0.444 -0.656 L -0.094 -0.306 L -0.306 -0.094 L -0.656 -0.444 Z M 0.156 -0.056 L 0.406 0.194 L 0.194 0.406 L -0.056 0.156 Z","M -1 1 L 0.2 0.85 L -0.85 -0.2 Z M 0.894 -1.106 L 0.644 -0.856 L 0.856 -0.644 L 1.106 -0.894 Z M 0.444 -0.656 L 0.094 -0.306 L 0.306 -0.094 L 0.656 -0.444 Z M -0.156 -0.056 L -0.406 0.194 L -0.194 0.406 L 0.056 0.156 Z","triangle-right","triangle-down"]},"legend":null}}},
   {"data":{"name":"ab4"},"mark":{"type":"text","font":"DejaVu Sans","fontSize":24,"fontWeight":"bold","stroke":"#ffffff","strokeWidth":0.8,"dy":1},"encoding":{"x":{"field":"x","type":"quantitative","axis":null},"y":{"field":"y","type":"quantitative","axis":null},"text":{"field":"n","type":"nominal"},"fill":{"condition":{"test":{"field":"cat","oneOf":["見逃し","空振り","ファウル"]},"value":"#0f1724"},"value":"#e5304a"}}}
  ]},
  {"spacing":0,"bounds":"flush","hconcat":[
   {"width":34,"height":140,"encoding":{"y":{"field":"n","type":"ordinal","scale":{"paddingInner":0,"paddingOuter":0},"axis":null}},"layer":[{"data":{"values":[{"n":0,"h":"何球目"}]},"layer":[{"mark":{"type":"rect","fill":"#6aaae4","stroke":"#1f3044","strokeWidth":1.5}},{"mark":{"type":"text","fill":"#0f1a28","fontSize":10,"fontWeight":"bold"},"encoding":{"text":{"field":"h","type":"nominal"}}}]},{"data":{"name":"ab4"},"layer":[{"mark":{"type":"rect","stroke":"#3a4350","strokeWidth":1.5},"encoding":{"fill":{"condition":{"test":{"field":"n","oneOf":[2,4,6]},"value":"#1b2029"},"value":"#14181f"}}},{"mark":{"type":"text","fill":"#c9ced4","fontSize":10},"encoding":{"text":{"field":"n","type":"nominal"}}}]}]},
   {"width":70,"height":140,"encoding":{"y":{"field":"n","type":"ordinal","scale":{"paddingInner":0,"paddingOuter":0},"axis":null}},"layer":[{"data":{"values":[{"n":0,"h":"投手"}]},"layer":[{"mark":{"type":"rect","fill":"#6aaae4","stroke":"#1f3044","strokeWidth":1.5}},{"mark":{"type":"text","fill":"#0f1a28","fontSize":10,"fontWeight":"bold"},"encoding":{"text":{"field":"h","type":"nominal"}}}]},{"data":{"name":"ab4"},"layer":[{"mark":{"type":"rect","stroke":"#3a4350","strokeWidth":1.5},"encoding":{"fill":{"condition":{"test":{"field":"n","oneOf":[2,4,6]},"value":"#1b2029"},"value":"#14181f"}}},{"mark":{"type":"text","fill":"#c9ced4","fontSize":10},"encoding":{"text":{"field":"pitcher","type":"nominal"}}}]}]},
   {"width":36,"height":140,"encoding":{"y":{"field":"n","type":"ordinal","scale":{"paddingInner":0,"paddingOuter":0},"axis":null}},"layer":[{"data":{"values":[{"n":0,"h":"左右投"}]},"layer":[{"mark":{"type":"rect","fill":"#6aaae4","stroke":"#1f3044","strokeWidth":1.5}},{"mark":{"type":"text","fill":"#0f1a28","fontSize":10,"fontWeight":"bold"},"encoding":{"text":{"field":"h","type":"nominal"}}}]},{"data":{"name":"ab4"},"layer":[{"mark":{"type":"rect","stroke":"#3a4350","strokeWidth":1.5},"encoding":{"fill":{"condition":{"test":{"field":"n","oneOf":[2,4,6]},"value":"#1b2029"},"value":"#14181f"}}},{"mark":{"type":"text","fill":"#c9ced4","fontSize":10},"encoding":{"text":{"field":"hand","type":"nominal"}}}]}]},
   {"width":85,"height":140,"encoding":{"y":{"field":"n","type":"ordinal","scale":{"paddingInner":0,"paddingOuter":0},"axis":null}},"layer":[{"data":{"values":[{"n":0,"h":"球種"}]},"layer":[{"mark":{"type":"rect","fill":"#6aaae4","stroke":"#1f3044","strokeWidth":1.5}},{"mark":{"type":"text","fill":"#0f1a28","fontSize":10,"fontWeight":"bold"},"encoding":{"text":{"field":"h","type":"nominal"}}}]},{"data":{"name":"ab4"},"layer":[{"mark":{"type":"rect","stroke":"#3a4350","strokeWidth":1.5},"encoding":{"fill":{"condition":{"test":{"field":"n","oneOf":[2,4,6]},"value":"#1b2029"},"value":"#14181f"}}},{"mark":{"type":"text","fill":"#c9ced4","fontSize":10},"encoding":{"text":{"field":"type","type":"nominal"}}}]}]},
   {"width":40,"height":140,"encoding":{"y":{"field":"n","type":"ordinal","scale":{"paddingInner":0,"paddingOuter":0},"axis":null}},"layer":[{"data":{"values":[{"n":0,"h":"球速"}]},"layer":[{"mark":{"type":"rect","fill":"#6aaae4","stroke":"#1f3044","strokeWidth":1.5}},{"mark":{"type":"text","fill":"#0f1a28","fontSize":10,"fontWeight":"bold"},"encoding":{"text":{"field":"h","type":"nominal"}}}]},{"data":{"name":"ab4"},"layer":[{"mark":{"type":"rect","stroke":"#3a4350","strokeWidth":1.5},"encoding":{"fill":{"condition":{"test":{"field":"n","oneOf":[2,4,6]},"value":"#1b2029"},"value":"#14181f"}}},{"mark":{"type":"text","fill":"#c9ced4","fontSize":10},"encoding":{"text":{"field":"speed","type":"quantitative","format":".1f"}}}]}]},
   {"width":237,"height":140,"encoding":{"y":{"field":"n","type":"ordinal","scale":{"paddingInner":0,"paddingOuter":0},"axis":null}},"layer":[{"data":{"values":[{"n":0,"h":"結果"}]},"layer":[{"mark":{"type":"rect","fill":"#6aaae4","stroke":"#1f3044","strokeWidth":1.5}},{"mark":{"type":"text","fill":"#0f1a28","fontSize":10,"fontWeight":"bold"},"encoding":{"text":{"field":"h","type":"nominal"}}}]},{"data":{"name":"ab4"},"layer":[{"mark":{"type":"rect","stroke":"#3a4350","strokeWidth":1.5},"encoding":{"fill":{"condition":{"test":{"field":"n","oneOf":[2,4,6]},"value":"#1b2029"},"value":"#14181f"}}},{"mark":{"type":"text","fill":"#c9ced4","fontSize":10},"encoding":{"text":{"field":"result","type":"nominal"}}}]}]}
  ]}
 ]},
 {"title":{"text":"5打席目","anchor":"middle","fontSize":24,"fontWeight":"bold","color":"#eef1f4","offset":14},"spacing":167.5,"bounds":"flush","vconcat":[
  {"width":502,"height":422,"view":{"fill":"#15191f"},"layer":[
   {"data":{"values":[{}]},"mark":{"type":"rect","fill":"#1e2835"},"encoding":{"x":{"datum":-1.5,"type":"quantitative","scale":{"domain":[-2.5,2.5],"nice":false,"zero":false},"axis":null},"x2":{"datum":1.5},"y":{"datum":1,"type":"quantitative","scale":{"domain":[0,5],"nice":false,"zero":false},"axis":null},"y2":{"datum":4}}},
   {"data":{"values":[{}]},"layer":[
    {"mark":{"type":"rule","color":"#39424e","strokeWidth":1.2},"encoding":{"x":{"datum":-1.5,"type":"quantitative","axis":null}}},
    {"mark":{"type":"rule","color":"#39424e","strokeWidth":1.2},"encoding":{"x":{"datum":-0.5,"type":"quantitative","axis":null}}},
    {"mark":{"type":"rule","color":"#39424e","strokeWidth":1.2},"encoding":{"x":{"datum":0.5,"type":"quantitative","axis":null}}},
    {"mark":{"type":"rule","color":"#39424e","strokeWidth":1.2},"encoding":{"x":{"datum":1.5,"type":"quantitative","axis":null}}},
    {"mark":{"type":"rule","color":"#39424e","strokeWidth":1.2},"encoding":{"y":{"datum":1,"type":"quantitative","axis":null}}},
    {"mark":{"type":"rule","color":"#39424e","strokeWidth":1.2},"encoding":{"y":{"datum":2,"type":"quantitative","axis":null}}},
    {"mark":{"type":"rule","color":"#39424e","strokeWidth":1.2},"encoding":{"y":{"datum":3,"type":"quantitative","axis":null}}},
    {"mark":{"type":"rule","color":"#39424e","strokeWidth":1.2},"encoding":{"y":{"datum":4,"type":"quantitative","axis":null}}}]},
   {"data":{"values":[{}]},"mark":{"type":"rect","filled":false,"stroke":"#4b5a6b","strokeWidth":1.5},"encoding":{"x":{"datum":-1.5,"type":"quantitative","axis":null},"x2":{"datum":1.5},"y":{"datum":1,"type":"quantitative","axis":null},"y2":{"datum":4}}},
   {"data":{"values":[{}]},"mark":{"type":"point","shape":"M -1 -0.46 L 1 -0.46 L 1 -0.03 L 0 0.46 L -1 -0.03 Z","size":10000,"filled":true,"fill":"#2b2f37","stroke":"#9a9fa6","strokeWidth":2,"opacity":1},"encoding":{"x":{"datum":0,"type":"quantitative","axis":null},"y":{"datum":0.2725,"type":"quantitative","axis":null}}},
   {"data":{"name":"ab5"},"transform":[{"window":[{"op":"lead","field":"x","as":"nx"},{"op":"lead","field":"y","as":"ny"}],"sort":[{"field":"n","order":"ascending"}]},{"filter":{"field":"nx","valid":true}},{"calculate":"sqrt(pow((datum.nx-datum.x)*100.4,2)+pow((datum.ny-datum.y)*84.4,2))","as":"L"},{"filter":"datum.L > 40"},{"calculate":"datum.x+(datum.nx-datum.x)*23/datum.L","as":"sx"},{"calculate":"datum.y+(datum.ny-datum.y)*23/datum.L","as":"sy"},{"calculate":"datum.nx-(datum.nx-datum.x)*23/datum.L","as":"ex"},{"calculate":"datum.ny-(datum.ny-datum.y)*23/datum.L","as":"ey"},{"calculate":"atan2(-(datum.ny-datum.y)*84.4,(datum.nx-datum.x)*100.4)*180/PI","as":"ang"}],"layer":[
    {"mark":{"type":"rule","color":"#7b848e","strokeWidth":2},"encoding":{"x":{"field":"sx","type":"quantitative","axis":null},"y":{"field":"sy","type":"quantitative","axis":null},"x2":{"field":"ex"},"y2":{"field":"ey"}}},
    {"mark":{"type":"point","shape":"M -0.5 -0.3 L 0 0 L -0.5 0.3","size":1296,"filled":false,"stroke":"#7b848e","strokeWidth":2,"opacity":1},"encoding":{"x":{"field":"ex","type":"quantitative","axis":null},"y":{"field":"ey","type":"quantitative","axis":null},"angle":{"field":"ang","type":"quantitative","scale":null}}}]},
   {"data":{"name":"ab5"},"mark":{"type":"point","filled":true,"size":840,"stroke":"#e6edf3","strokeWidth":1.8,"opacity":1},"encoding":{"x":{"field":"x","type":"quantitative","axis":null},"y":{"field":"y","type":"quantitative","axis":null},
    "color":{"field":"cat","type":"nominal","scale":{"domain":["見逃し","空振り","ファウル","ゴロアウト","フライアウト","ライナーアウト","見逃し三振","空振り三振","併殺","犠打","犠飛","単打","長打"],"range":["#4da6ff","#ffd23f","#ff8c42","#687585","#8a95a3","#b0bac5","#7c4dff","#c77dff","#3d434e","#2ec27e","#6fdba0","#ffa62b","#ff2d55"]},"legend":{"orient":"none","legendX":1441,"legendY":1230,"columns":2,"title":"投球結果","titleAnchor":"middle","titleFontSize":23,"titleFontWeight":"normal","titleColor":"#d8dde3","titlePadding":10,"labelFontSize":20,"labelColor":"#d0d5db","labelOffset":23,"labelLimit":300,"symbolType":"circle","symbolSize":441,"symbolStrokeWidth":0,"rowPadding":7.5,"columnPadding":26,"padding":0}},
    "shape":{"field":"type","type":"nominal","scale":{"domain":["ストレート","カーブ","シンカー","スライダー","フォーク"],"range":["circle","M 1 1 L -0.2 0.85 L 0.85 -0.2 Z M -0.894 -1.106 L -0.644 -0.856 L -0.856 -0.644 L -1.106 -0.894 Z M -0.444 -0.656 L -0.094 -0.306 L -0.306 -0.094 L -0.656 -0.444 Z M 0.156 -0.056 L 0.406 0.194 L 0.194 0.406 L -0.056 0.156 Z","M -1 1 L 0.2 0.85 L -0.85 -0.2 Z M 0.894 -1.106 L 0.644 -0.856 L 0.856 -0.644 L 1.106 -0.894 Z M 0.444 -0.656 L 0.094 -0.306 L 0.306 -0.094 L 0.656 -0.444 Z M -0.156 -0.056 L -0.406 0.194 L -0.194 0.406 L 0.056 0.156 Z","triangle-right","triangle-down"]},"legend":null}}},
   {"data":{"name":"ab5"},"mark":{"type":"text","font":"DejaVu Sans","fontSize":24,"fontWeight":"bold","stroke":"#ffffff","strokeWidth":0.8,"dy":1},"encoding":{"x":{"field":"x","type":"quantitative","axis":null},"y":{"field":"y","type":"quantitative","axis":null},"text":{"field":"n","type":"nominal"},"fill":{"condition":{"test":{"field":"cat","oneOf":["見逃し","空振り","ファウル"]},"value":"#0f1724"},"value":"#e5304a"}}}
  ]},
  {"spacing":0,"bounds":"flush","hconcat":[
   {"width":34,"height":140,"encoding":{"y":{"field":"n","type":"ordinal","scale":{"paddingInner":0,"paddingOuter":0},"axis":null}},"layer":[{"data":{"values":[{"n":0,"h":"何球目"}]},"layer":[{"mark":{"type":"rect","fill":"#6aaae4","stroke":"#1f3044","strokeWidth":1.5}},{"mark":{"type":"text","fill":"#0f1a28","fontSize":10,"fontWeight":"bold"},"encoding":{"text":{"field":"h","type":"nominal"}}}]},{"data":{"name":"ab5"},"layer":[{"mark":{"type":"rect","stroke":"#3a4350","strokeWidth":1.5},"encoding":{"fill":{"condition":{"test":{"field":"n","oneOf":[2,4,6]},"value":"#1b2029"},"value":"#14181f"}}},{"mark":{"type":"text","fill":"#c9ced4","fontSize":10},"encoding":{"text":{"field":"n","type":"nominal"}}}]}]},
   {"width":70,"height":140,"encoding":{"y":{"field":"n","type":"ordinal","scale":{"paddingInner":0,"paddingOuter":0},"axis":null}},"layer":[{"data":{"values":[{"n":0,"h":"投手"}]},"layer":[{"mark":{"type":"rect","fill":"#6aaae4","stroke":"#1f3044","strokeWidth":1.5}},{"mark":{"type":"text","fill":"#0f1a28","fontSize":10,"fontWeight":"bold"},"encoding":{"text":{"field":"h","type":"nominal"}}}]},{"data":{"name":"ab5"},"layer":[{"mark":{"type":"rect","stroke":"#3a4350","strokeWidth":1.5},"encoding":{"fill":{"condition":{"test":{"field":"n","oneOf":[2,4,6]},"value":"#1b2029"},"value":"#14181f"}}},{"mark":{"type":"text","fill":"#c9ced4","fontSize":10},"encoding":{"text":{"field":"pitcher","type":"nominal"}}}]}]},
   {"width":36,"height":140,"encoding":{"y":{"field":"n","type":"ordinal","scale":{"paddingInner":0,"paddingOuter":0},"axis":null}},"layer":[{"data":{"values":[{"n":0,"h":"左右投"}]},"layer":[{"mark":{"type":"rect","fill":"#6aaae4","stroke":"#1f3044","strokeWidth":1.5}},{"mark":{"type":"text","fill":"#0f1a28","fontSize":10,"fontWeight":"bold"},"encoding":{"text":{"field":"h","type":"nominal"}}}]},{"data":{"name":"ab5"},"layer":[{"mark":{"type":"rect","stroke":"#3a4350","strokeWidth":1.5},"encoding":{"fill":{"condition":{"test":{"field":"n","oneOf":[2,4,6]},"value":"#1b2029"},"value":"#14181f"}}},{"mark":{"type":"text","fill":"#c9ced4","fontSize":10},"encoding":{"text":{"field":"hand","type":"nominal"}}}]}]},
   {"width":85,"height":140,"encoding":{"y":{"field":"n","type":"ordinal","scale":{"paddingInner":0,"paddingOuter":0},"axis":null}},"layer":[{"data":{"values":[{"n":0,"h":"球種"}]},"layer":[{"mark":{"type":"rect","fill":"#6aaae4","stroke":"#1f3044","strokeWidth":1.5}},{"mark":{"type":"text","fill":"#0f1a28","fontSize":10,"fontWeight":"bold"},"encoding":{"text":{"field":"h","type":"nominal"}}}]},{"data":{"name":"ab5"},"layer":[{"mark":{"type":"rect","stroke":"#3a4350","strokeWidth":1.5},"encoding":{"fill":{"condition":{"test":{"field":"n","oneOf":[2,4,6]},"value":"#1b2029"},"value":"#14181f"}}},{"mark":{"type":"text","fill":"#c9ced4","fontSize":10},"encoding":{"text":{"field":"type","type":"nominal"}}}]}]},
   {"width":40,"height":140,"encoding":{"y":{"field":"n","type":"ordinal","scale":{"paddingInner":0,"paddingOuter":0},"axis":null}},"layer":[{"data":{"values":[{"n":0,"h":"球速"}]},"layer":[{"mark":{"type":"rect","fill":"#6aaae4","stroke":"#1f3044","strokeWidth":1.5}},{"mark":{"type":"text","fill":"#0f1a28","fontSize":10,"fontWeight":"bold"},"encoding":{"text":{"field":"h","type":"nominal"}}}]},{"data":{"name":"ab5"},"layer":[{"mark":{"type":"rect","stroke":"#3a4350","strokeWidth":1.5},"encoding":{"fill":{"condition":{"test":{"field":"n","oneOf":[2,4,6]},"value":"#1b2029"},"value":"#14181f"}}},{"mark":{"type":"text","fill":"#c9ced4","fontSize":10},"encoding":{"text":{"field":"speed","type":"quantitative","format":".1f"}}}]}]},
   {"width":237,"height":140,"encoding":{"y":{"field":"n","type":"ordinal","scale":{"paddingInner":0,"paddingOuter":0},"axis":null}},"layer":[{"data":{"values":[{"n":0,"h":"結果"}]},"layer":[{"mark":{"type":"rect","fill":"#6aaae4","stroke":"#1f3044","strokeWidth":1.5}},{"mark":{"type":"text","fill":"#0f1a28","fontSize":10,"fontWeight":"bold"},"encoding":{"text":{"field":"h","type":"nominal"}}}]},{"data":{"name":"ab5"},"layer":[{"mark":{"type":"rect","stroke":"#3a4350","strokeWidth":1.5},"encoding":{"fill":{"condition":{"test":{"field":"n","oneOf":[2,4,6]},"value":"#1b2029"},"value":"#14181f"}}},{"mark":{"type":"text","fill":"#c9ced4","fontSize":10},"encoding":{"text":{"field":"result","type":"nominal"}}}]}]}
  ]}
 ]}
 ]}
]
}
